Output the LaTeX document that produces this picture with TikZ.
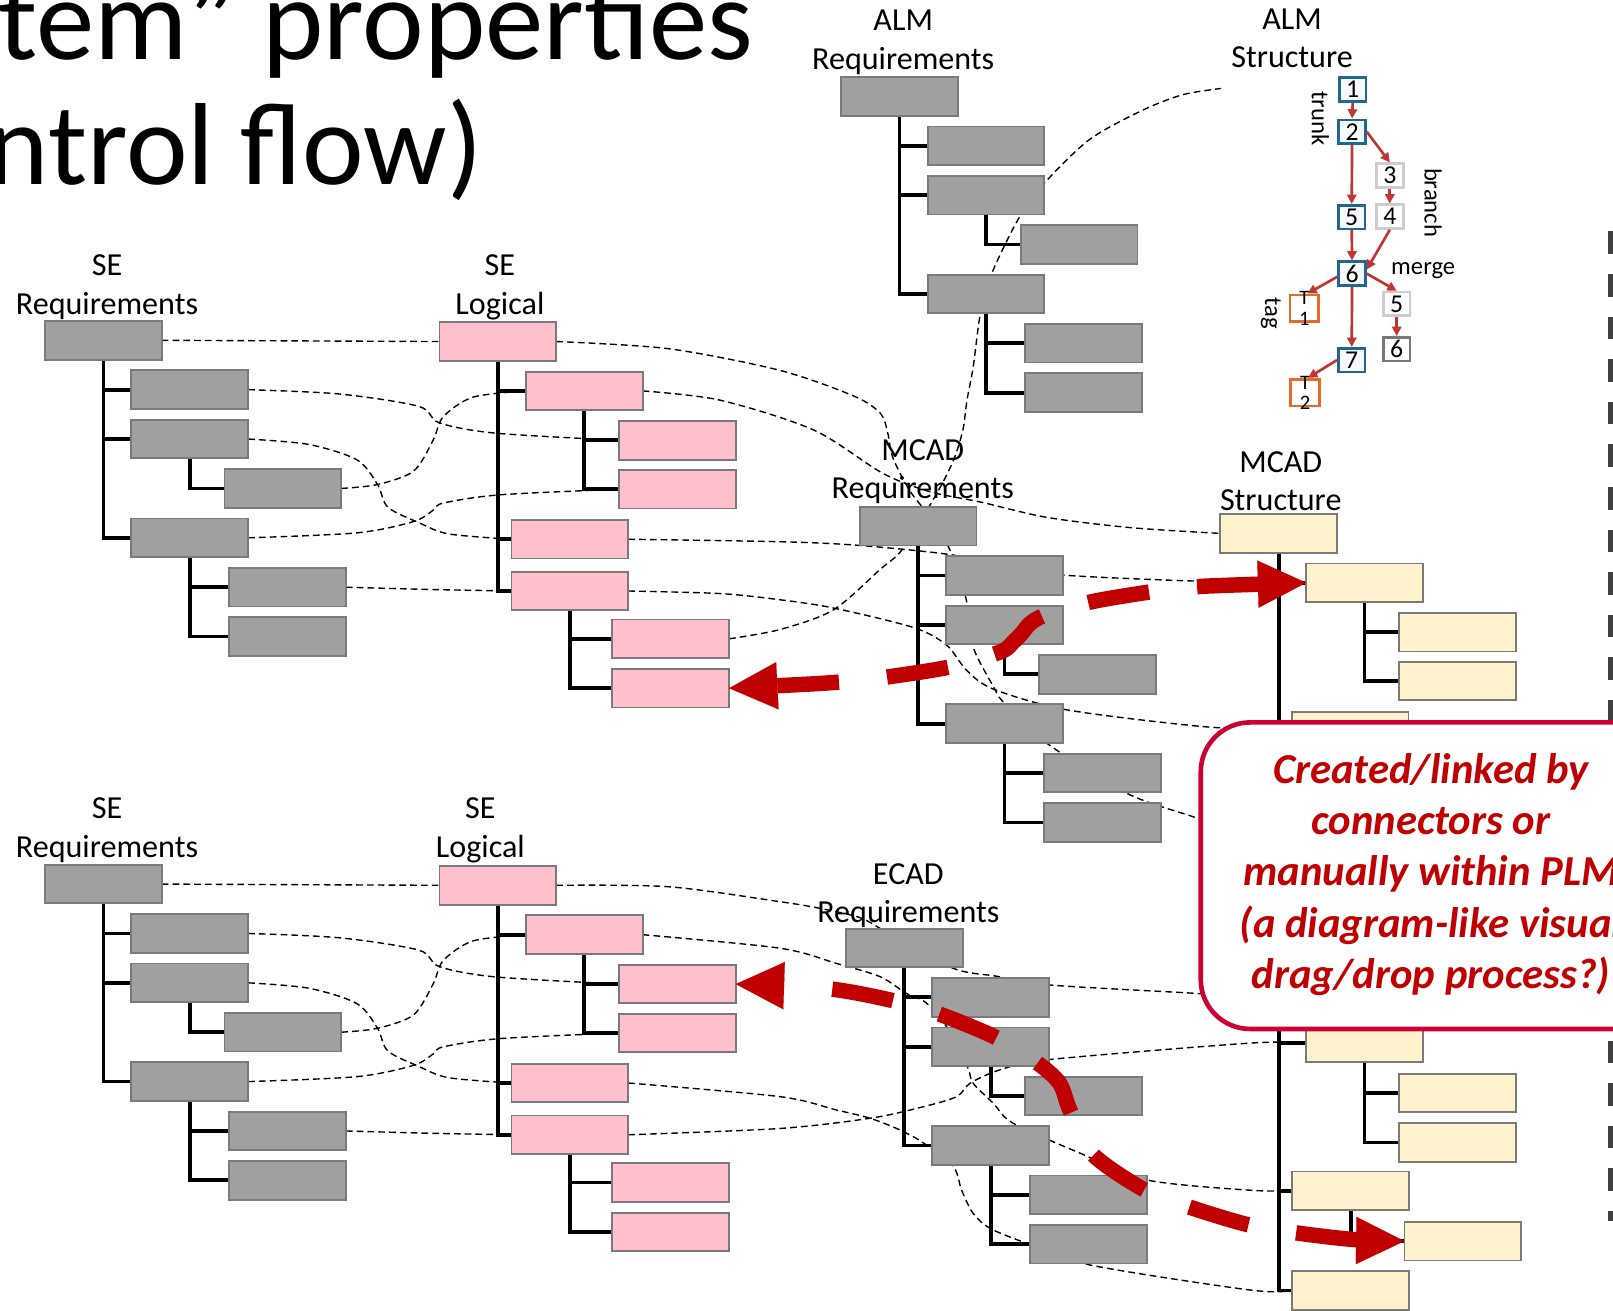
\documentclass[tikz,border=0pt]{standalone}
\usepackage{fontspec}
\setmainfont{Carlito}
\usetikzlibrary{arrows.meta}
\definecolor{graybox}{RGB}{160,160,160}
\definecolor{boxline}{RGB}{122,122,122}
\definecolor{pinkbox}{RGB}{255,192,203}
\definecolor{creambox}{RGB}{255,242,204}
\definecolor{darkred}{RGB}{192,0,0}
\definecolor{crimson}{RGB}{204,0,51}
\definecolor{gitblue}{RGB}{31,105,145}
\definecolor{gitred}{RGB}{190,55,50}
\definecolor{gitlight}{RGB}{205,205,205}
\definecolor{gitdark}{RGB}{120,120,120}
\definecolor{gitorange}{RGB}{228,108,40}
\definecolor{gitfill}{RGB}{246,250,252}
\definecolor{bardark}{RGB}{64,64,64}
\newcommand\lblfont{\fontsize{31.2}{37}\selectfont}
\newcommand\gitfont{\fontsize{25}{30}\selectfont}
\newcommand\gitsmall{\fontsize{20}{24}\selectfont}
\newcommand\gitlblfont{\fontsize{24}{29}\selectfont}
\newcommand\titlefont{\fontsize{113.5}{136}\selectfont}
\newcommand\callfont{\fontsize{41.5}{50}\selectfont\bfseries\itshape}
\pgfdeclarelayer{bg}
\pgfsetlayers{bg,main}
\tikzset{
  gbox/.style={draw=boxline, fill=graybox, line width=1.8pt, minimum width=113.5pt, minimum height=37.5pt, inner sep=0pt, outer sep=0pt},
  pbox/.style={gbox, fill=pinkbox},
  cbox/.style={gbox, fill=creambox},
  treeline/.style={draw=black, line width=3.6pt},
  link/.style={draw=black, line width=1.35pt, dash pattern=on 6.5pt off 4pt},
  lbl/.style={font=\lblfont, anchor=base, inner sep=0pt},
  bigred/.style={draw=darkred, line width=15pt, dash pattern=on 60pt off 47pt,
     {Triangle[length=47pt,width=46pt,line width=0.1pt]}-{Triangle[length=47pt,width=46pt,line width=0.1pt]}},
  gitnode/.style={draw=gitblue, fill=gitfill, line width=2.6pt, minimum width=26pt, minimum height=23pt, inner sep=0pt, font=\gitfont},
  gitbranch/.style={gitnode, draw=gitlight, fill=white},
  gitmerged/.style={gitnode, draw=gitdark, fill=white},
  gittag/.style={gitnode, draw=gitorange, fill=white, minimum width=28pt, minimum height=26pt},
  gittagtxt/.style={font=\gitsmall, inner sep=0pt},
  gitarr/.style={draw=gitred, line width=2.6pt, -{Triangle[length=9pt,width=9pt]}},
  gitlbl/.style={font=\gitlblfont, inner sep=0pt},
  bar/.style={draw=bardark, line width=7pt, dash pattern=on 22pt off 19.4pt},
  callout/.style={draw=crimson, fill=white, line width=4.5pt, rounded corners=48pt, inner sep=0pt},
  calltxt/.style={font=\callfont, text=darkred, anchor=base, inner sep=0pt},
  titletxt/.style={font=\titlefont, anchor=base west, inner sep=0pt},
}
% requirement-like tree (root at local origin)
\newcommand\reqtree[2]{%
  \node[#2] (#1R0) at (0,0) {};
  \node[#2] (#1R1) at (84,48) {};
  \node[#2] (#1R2) at (84,96) {};
  \node[#2] (#1R21) at (174.5,144) {};
  \node[#2] (#1R3) at (84,192) {};
  \node[#2] (#1R31) at (179,240) {};
  \node[#2] (#1R32) at (179,288) {};
}
\newcommand\reqlines[1]{%
  \draw[treeline] (#1R0.south) |- (#1R1.west);
  \draw[treeline] (#1R0.south) |- (#1R2.west);
  \draw[treeline] (#1R0.south) |- (#1R3.west);
  \draw[treeline] (#1R2.south) |- (#1R21.west);
  \draw[treeline] (#1R3.south) |- (#1R31.west);
  \draw[treeline] (#1R3.south) |- (#1R32.west);
}
\newcommand\logtree[1]{%
  \node[pbox] (#1L0) at (0,0) {};
  \node[pbox] (#1L1) at (84,48) {};
  \node[pbox] (#1L11) at (174.5,96) {};
  \node[pbox] (#1L12) at (174.5,143.6) {};
  \node[pbox] (#1L2) at (70,192.2) {};
  \node[pbox] (#1L3) at (70,242.5) {};
  \node[pbox] (#1L31) at (168,289) {};
  \node[pbox] (#1L32) at (168,337) {};
}
\newcommand\loglines[1]{%
  \draw[treeline] (#1L0.south) |- (#1L1.west);
  \draw[treeline] (#1L0.south) |- (#1L2.west);
  \draw[treeline] (#1L0.south) |- (#1L3.west);
  \draw[treeline] (#1L1.south) |- (#1L11.west);
  \draw[treeline] (#1L1.south) |- (#1L12.west);
  \draw[treeline] (#1L3.south) |- (#1L31.west);
  \draw[treeline] (#1L3.south) |- (#1L32.west);
}
\newcommand\selinks[1]{%
  \draw[link] (#1R0.east) -- (#1L0.west);
  \draw[link] plot[smooth] coordinates {(#1R1.east) (330,383) (407,395) (427,411) (481,421) (#1L11.west)};
  \draw[link] plot[smooth] coordinates {(#1R2.east) (300,432) (347,447) (367,471) (377,493) (407,508) (436,519) (#1L2.west)};
  \draw[link] plot[smooth] coordinates {(#1R21.east) (367,471) (402,458) (421,428) (431,405) (460,386) (#1L1.west)};
  \draw[link] plot[smooth] coordinates {(#1R3.east) (347,518) (402,507) (421,496) (431,489) (486,481) (#1L12.west)};
  \draw[link] plot[smooth] coordinates {(#1R31.east) (417,573) (#1L3.west)};
}
\begin{document}
\begin{tikzpicture}[x=1pt,y=-1pt]
\useasboundingbox (0,0) rectangle (1568,1274);

% ---------------- title fragment
\node[titletxt] (ttl1) at (-2,58) {tem” properties};
\node[titletxt] (ttl2) at (-12,179) {ntrol flow)};

% ---------------- trees
\begin{scope}[shift={(100.5,330.8)}]\reqtree{a}{gbox}\end{scope}
\begin{scope}[shift={(484,332)}]\logtree{a}\end{scope}
\begin{scope}[shift={(100.5,859.4)}]\reqtree{b}{gbox}\end{scope}
\begin{scope}[shift={(484,860.6)}]\logtree{b}\end{scope}
\begin{scope}[shift={(874.5,93.7)}]\reqtree{al}{gbox}\end{scope}
\begin{scope}[shift={(892.5,511.5)}]\reqtree{m}{gbox}\end{scope}
\begin{scope}[shift={(879,921.5)}]\reqtree{e}{gbox}\end{scope}
% MCAD structure (upper part)
\begin{scope}[shift={(1243,518.5)}]
  \node[cbox] (sT0) at (0,0) {};
  \node[cbox] (sT1) at (83.5,48) {};
  \node[cbox] (sT11) at (174,96) {};
  \node[cbox] (sT12) at (174,143.5) {};
  \node[cbox] (sT2) at (69.5,192) {};
\end{scope}
% MCAD structure (lower part)
\begin{scope}[shift={(1243,966)}]
  \coordinate (sBroot) at (0,19);
  \node[cbox] (sB1) at (83.5,48) {};
  \node[cbox] (sB11) at (174,96.5) {};
  \node[cbox] (sB12) at (174,144.5) {};
  \node[cbox] (sB2) at (70,191.5) {};
  \node[cbox] (sB21) at (179,240.5) {};
  \node[cbox] (sB3) at (70,288.5) {};
\end{scope}

% free ends of links
\coordinate (almS) at (1187,86);
\coordinate (c7end) at (1200,808);
\coordinate (b7end) at (1186,968);

% ---------------- labels
\node[lbl] (lA1) at (878,30) {ALM};
\node[lbl] (lA2) at (878,68) {Requirements};
\node[lbl] (lB1) at (1256,29) {ALM};
\node[lbl] (lB2) at (1256,66) {Structure};
\node[lbl] (lC1) at (104,268) {SE};
\node[lbl] (lC2) at (104,306) {Requirements};
\node[lbl] (lD1) at (486,268) {SE};
\node[lbl] (lD2) at (486,306) {Logical};
\node[lbl] (lE1) at (897,448) {MCAD};
\node[lbl] (lE2) at (897,485) {Requirements};
\node[lbl] (lF1) at (1245,459) {MCAD};
\node[lbl] (lF2) at (1245,496) {Structure};
\node[lbl] (lG1) at (104,796) {SE};
\node[lbl] (lG2) at (104,834) {Requirements};
\node[lbl] (lH1) at (467,796) {SE};
\node[lbl] (lH2) at (467,834) {Logical};
\node[lbl] (lI1) at (883,860) {ECAD};
\node[lbl] (lI2) at (883,897) {Requirements};

% ---------------- ALM structure (version graph)
\node[gitnode] (g1) at (1315,87) {1};
\node[gitnode] (g2) at (1314.3,128) {2};
\node[gitbranch] (g3) at (1351,170.6) {3};
\node[gitbranch] (g4) at (1351,210.6) {4};
\node[gitnode] (g5) at (1314,211) {5};
\node[gitnode] (g6) at (1314.3,266) {6};
\node[gittag] (t1) at (1268,299.7) {};
\node[gitbranch] (b5) at (1357.7,295.4) {5};
\node[gitmerged] (b6) at (1357.7,339.4) {6};
\node[gitnode] (g7) at (1314,350) {7};
\node[gittag] (t2) at (1268.6,381.6) {};
\node[gittagtxt] (t1a) at ([yshift=-4.5pt]t1.north) {T};
\node[gittagtxt] (t1b) at ([yshift=4.5pt]t1.south) {1};
\node[gittagtxt] (t2a) at ([yshift=-4.5pt]t2.north) {T};
\node[gittagtxt] (t2b) at ([yshift=4.5pt]t2.south) {2};
\node[gitlbl, rotate=-90] (trunkl) at (1283.6,115) {trunk};
\node[gitlbl, rotate=-90] (branchl) at (1393,197) {branch};
\node[gitlbl] (mergel) at (1383.5,263) {merge};
\node[gitlbl, rotate=-90] (tagl) at (1235.4,304.6) {tag};
\draw[gitarr] (g1.south) -- (g2.north);
\draw[gitarr] (g2.east) -- (g3.north);
\draw[gitarr] (g3.south) -- (g4.north);
\draw[gitarr] (g2.south) -- (g5.north);
\draw[gitarr] (g5.south) -- (g6.north);
\draw[gitarr] (g4.south) -- ([yshift=4pt]g6.east);
\draw[gitarr] ([yshift=-3pt]g6.west) -- ([xshift=3pt]t1.north);
\draw[gitarr] (g6.east) -- (b5.north);
\draw[gitarr] (b5.south) -- (b6.north);
\draw[gitarr] (g6.south) -- (g7.north);
\draw[gitarr] (g7.west) -- ([xshift=3pt]t2.north);

% ---------------- background: links and tree lines
\begin{pgfonlayer}{bg}
  \selinks{a}
  \begin{scope}[yshift=-528.6pt]\selinks{b}\end{scope}
  % upper right links
  \draw[link] plot[smooth] coordinates {(aL0.east) (650,339) (758,360) (830,385) (856,402) (863,421) (868,445) (885,478) (910,510) (928,545) (940,586) (946,629) (966,668) (975,682) (1017,722) (1095,771) (1160,794) (c7end)};
  \draw[link] plot[smooth] coordinates {(aL1.east) (700,389) (791,418) (858,460) (904,478) (953,488) (1018,503) (1100,513) (sT0.west)};
  \draw[link] plot[smooth] coordinates {(aL2.east) (758,526.6) (833,530) (920,538.6) (980,550) (1033,559) (1166,565) (sT1.west)};
  \draw[link] plot[smooth] coordinates {(aL3.east) (700,577) (758,583) (810,591) (888,610) (920,627) (940,652) (966,670) (1037,690) (1166,706) (sT2.west)};
  \draw[link] plot[smooth] coordinates {(aL31.east) (758,612) (810,593) (855,554) (878,533) (911,479) (927,447) (936,418) (940,389) (946,357) (953,305) (964,266) (991,211) (1018,175) (1060,135) (1111,107) (1150,92) (almS)};
  % lower right links
  \draw[link] plot[smooth] coordinates {(bL0.east) (650,862) (758,876.5) (797,883) (836,892) (860,905) (926,941) (969,949) (1020.7,957.5) (1160,965.5) (b7end)};
  \draw[link] plot[smooth] coordinates {(bL1.east) (758,921.7) (813,936.5) (855.5,949.4) (881,965.7) (901,975.4) (925,1005) (941,1038.5) (946,1053) (965.6,1072.5) (985,1092) (1050,1121) (1114.7,1147) (1215,1157) (sB2.west)};
  \draw[link] plot[smooth] coordinates {(bL2.east) (758,1066) (813,1079) (845.7,1087) (875,1098.5) (897.6,1111) (926.7,1134) (934.8,1157) (946,1179.5) (962.4,1194) (998,1208.6) (1059.6,1229.7) (1215,1254) (sB3.west)};
  \draw[link] plot[smooth] coordinates {(bL3.east) (758,1097) (846,1087) (897,1076) (930,1066) (943,1053) (972,1040) (1020,1030) (1215,1014) (sB1.west)};
  % tree lines
  \reqlines{a}\loglines{a}\reqlines{b}\loglines{b}
  \reqlines{al}\reqlines{m}\reqlines{e}
  \draw[treeline] (sT0.south) |- (sT1.west);
  \draw[treeline] (sT0.south) |- (sT2.west);
  \draw[treeline] (sT1.south) |- (sT11.west);
  \draw[treeline] (sT1.south) |- (sT12.west);
  \draw[treeline] (sBroot) |- (sB1.west);
  \draw[treeline] (sBroot) |- (sB2.west);
  \draw[treeline] (sBroot) |- (sB3.west);
  \draw[treeline] (sB1.south) |- (sB11.west);
  \draw[treeline] (sB1.south) |- (sB12.west);
  \draw[treeline] (sB2.south) |- (sB21.west);
  % right-edge dashed bar
  \draw[bar] (1567,225) -- (1567,1187);
\end{pgfonlayer}

% ---------------- big red arrows
\draw[bigred] plot[smooth, tension=0.5] coordinates {(aL32.east) (817,663) (863,658) (925,648) (973,633.5) (985,624) (993,616) (1001.5,606) (1016,598) (1061,585) (1121,575) (1168,570) (sT1.west)};
\draw[bigred, dash phase=60pt] plot[smooth, tension=0.5] coordinates {(bL11.east) (804,961) (865,972) (911,985) (967,1008) (1008,1033) (1030,1053) (1040,1079) (1061,1121) (1113,1157) (1158,1174) (1215,1191) (1264,1199) (1317,1205) (sB21.west)};

% ---------------- callout
\node[callout, minimum width=480pt, minimum height=298pt, anchor=north west] (call) at (1165,700) {};
\node[calltxt] (ct1) at (1391,761.5) {Created/linked by};
\node[calltxt] (ct2) at (1391,811.3) {connectors or};
\node[calltxt] (ct3) at (1391,861.1) {manually within PLM};
\node[calltxt] (ct4) at (1391,910.9) {(a diagram-like visual};
\node[calltxt] (ct5) at (1391,960.7) {drag/drop process?)};
\end{tikzpicture}
\end{document}
